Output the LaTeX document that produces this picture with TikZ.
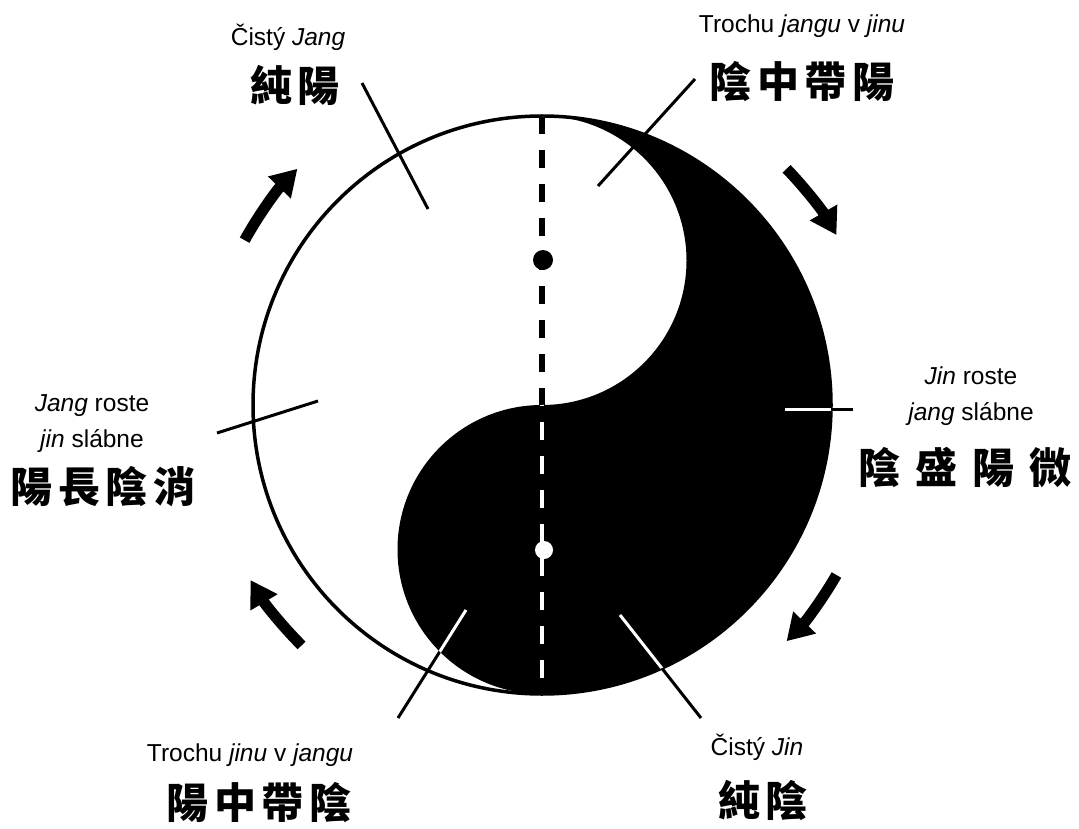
\documentclass[tikz,border=0pt]{standalone}
\usepackage{fontspec}
\setmainfont{Liberation Sans}
\newfontfamily\hanzi{Noto Sans CJK TC}[LetterSpace=14]
\usetikzlibrary{arrows.meta}

% black half of the taiji
\newcommand{\yinshape}{(542,116) arc[start angle=-90, end angle=90, radius=289]
  arc[start angle=90, end angle=270, radius=144.5]
  arc[start angle=90, end angle=-90, radius=144.5] -- cycle}

\begin{document}
\begin{tikzpicture}[x=1pt, y=-1pt,
    latin/.style={font=\fontsize{24.5}{36}\selectfont, align=center, inner sep=0pt},
    glyphs/.style={font=\hanzi\bfseries\fontsize{42}{42}\selectfont, inner sep=0pt},
    leader/.style={line width=3pt},
    flow/.style={line width=11pt, -{Triangle[length=26pt, width=30pt]}}]
        \path[fill=white] (0,0) rectangle (1079,829);
        \coordinate (c) at (542,405);

        % Taiji
        \fill[black] \yinshape;
        \draw[line width=3.5pt] (c) circle[radius=289];
        \draw[line width=5.5pt, dash pattern=on 18pt off 16pt] (542,116) -- (542,694);
        \fill[black] (543,260) circle[radius=10];

        % Leader ends
        \coordinate (jy1) at (362,83);   \coordinate (jy2) at (428,209);
        \coordinate (yzy1) at (695,79);  \coordinate (yzy2) at (598,186);
        \coordinate (jr1) at (217,433);  \coordinate (jr2) at (318,401);
        \coordinate (yr1) at (785,409);  \coordinate (yr2) at (853,409);
        \coordinate (yzj1) at (466,610); \coordinate (yzj2) at (398,718);
        \coordinate (cj1) at (620,615);  \coordinate (cj2) at (701,718);

        % Leaders
        \draw[leader] (jy1) -- (jy2);
        \draw[leader] (yzy1) -- (yzy2);
        \draw[leader] (jr1) -- (jr2);
        \draw[leader] (yr1) -- (yr2);
        \draw[leader] (yzj1) -- (yzj2);
        \draw[leader] (cj1) -- (cj2);

        % White parts inside the black half
        \begin{scope}
            \clip \yinshape;
            \draw[white, line width=4.5pt, dash pattern=on 18pt off 16pt] (542,116) -- (542,694);
            \draw[white, leader] (yr1) -- (yr2);
            \draw[white, leader] (yzj1) -- (yzj2);
            \draw[white, leader] (cj1) -- (cj2);
        \end{scope}
        \fill[white] (544,550) circle[radius=9];

        % Turning arrows
        \draw[flow] ([shift={(-151:340)}]c) arc[start angle=-151, end angle=-136, radius=340];
        \draw[flow] ([shift={(-44:340)}]c) arc[start angle=-44, end angle=-30, radius=340];
        \draw[flow] ([shift={(30:340)}]c) arc[start angle=30, end angle=44, radius=340];
        \draw[flow] ([shift={(135:340)}]c) arc[start angle=135, end angle=149, radius=340];

        % Labels
        \node[latin] (cistyjang) at (288,37) {Čistý \textit{Jang}};
        \node[glyphs] (chunyang) at (295,85) {純陽};
        \node[latin] (trochujangu) at (802,26) {Trochu \textit{jangu} v \textit{jinu}};
        \node[glyphs] (yinzhongdaiyang) at (802,82) {陰中帶陽};
        \node[latin] (jangroste) at (92,424) {\textit{Jang} roste\\\textit{jin} slábne};
        \node[glyphs] (yangzhangyinxiao) at (103,487) {陽長陰消};
        \node[latin] (jinroste) at (971,396) {\textit{Jin} roste\\\textit{jang} slábne};
        \node[glyphs, font=\hanzi\bfseries\fontsize{42}{42}\selectfont\addfontfeature{LetterSpace=36}] (yinshengyangwei) at (965,467) {陰盛陽微};
        \node[latin] (trochujinu) at (250,755) {Trochu \textit{jinu} v \textit{jangu}};
        \node[glyphs] (yangzhongdaiyin) at (259,803) {陽中帶陰};
        \node[latin] (cistyjin) at (757,747) {Čistý \textit{Jin}};
        \node[glyphs] (chunyin) at (763,800) {純陰};
\end{tikzpicture}
\end{document}
